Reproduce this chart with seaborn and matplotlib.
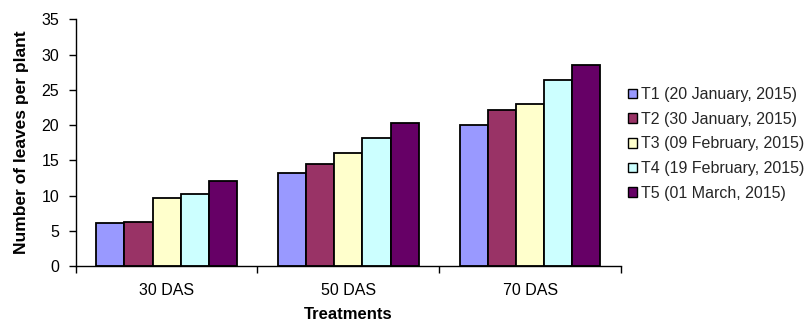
import matplotlib
matplotlib.use("Agg")
import matplotlib.pyplot as plt
import seaborn as sns
import pandas as pd

stages = ["30 DAS", "50 DAS", "70 DAS"]
treatments = ["T1 (20 January, 2015)", "T2 (30 January, 2015)",
              "T3 (09 February, 2015)", "T4 (19 February, 2015)",
              "T5 (01 March, 2015)"]
t1 = [6.1, 13.2, 20.0]
t2 = [6.3, 14.5, 22.2]
t3 = [9.7, 16.0, 23.0]
t4 = [10.2, 18.1, 26.4]
t5 = [12.1, 20.3, 28.5]
colors = ["#9999FF", "#993366", "#FFFFCC", "#CCFFFF", "#660066"]

rows = []
for name, vals in zip(treatments, [t1, t2, t3, t4, t5]):
    for s, v in zip(stages, vals):
        rows.append({"stage": s, "value": v, "treatment": name})
df = pd.DataFrame(rows)

sns.set_theme(style="white")
plt.rcParams["font.family"] = ["Liberation Sans", "DejaVu Sans"]

fig = plt.figure(figsize=(8.09, 3.22), dpi=100)
ax = fig.add_axes([75.7 / 809, 1 - 266 / 322, (621 - 75.7) / 809, (266 - 19.3) / 322])

sns.barplot(data=df, x="stage", y="value", hue="treatment", palette=colors,
            edgecolor="black", linewidth=1.3, width=0.773, ax=ax,
            saturation=1, errorbar=None, legend=True)

ax.set_xlim(-0.5, 2.5)
ax.set_ylim(0, 35)
ax.set_yticks(range(0, 36, 5))
ax.set_xticks([-0.5, 0.5, 1.5, 2.5], minor=True)
ax.tick_params(axis="x", which="major", length=0, labelsize=11.5, pad=12, colors="black")
ax.tick_params(axis="x", which="minor", length=5, width=1, color="black", direction="out", bottom=True)
ax.tick_params(axis="y", length=5, width=1, color="black", direction="out", left=True,
               labelsize=11.5, pad=7, labelcolor="black")
for side in ["top", "right"]:
    ax.spines[side].set_visible(False)
for side in ["left", "bottom"]:
    ax.spines[side].set_color("black")
    ax.spines[side].set_linewidth(1)

ax.set_xlabel("Treatments", fontsize=12, fontweight="bold", color="black", labelpad=7)
ax.set_ylabel("Number of leaves per plant", fontsize=12.5, fontweight="bold", color="black", labelpad=9)

handles, labels = ax.get_legend_handles_labels()
ax.get_legend().remove()
leg = fig.legend(handles, labels, loc="center left", bbox_to_anchor=(628 / 809, 1 - 144 / 322),
                 frameon=False, fontsize=11.5, handlelength=0.55, handleheight=0.55,
                 handletextpad=0.25, labelspacing=0.6, borderpad=0, borderaxespad=0)
for h in leg.legend_handles:
    h.set_edgecolor("black")
    h.set_linewidth(1.0)

fig.savefig("out.png", dpi=100)
